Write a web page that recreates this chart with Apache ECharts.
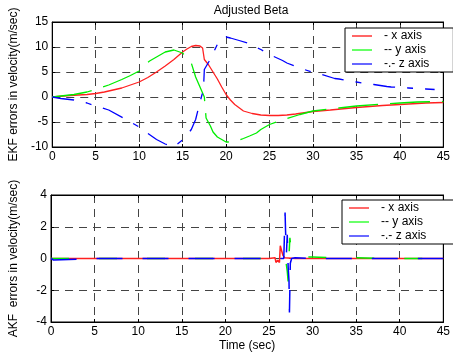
<!DOCTYPE html>
<html><head><meta charset="utf-8">
<script src="https://cdn.jsdelivr.net/npm/echarts@6/dist/echarts.min.js"></script>
<style>html,body{margin:0;padding:0;background:#fff}#c{width:453px;height:358px}</style>
</head><body><div id="c"></div>
<script>
// ---- Top panel (EKF) ----
const ekfXt = [0,2,4,5,6,8,10,11,12,13,14,15,15.5,16,16.5,17,17.3,17.4,17.5,18,18.5,19,19.5,20,20.5,21,22,23,24,25,26,27,28,30,32,35,38,40,43,45];
const ekfX  = [0,0.3,0.5,0.7,1.0,1.8,3.0,3.9,5.0,6.2,7.5,9.0,9.6,10.1,10.3,10.2,9.8,9.5,7.5,6.4,5.0,3.6,2.0,0.5,-0.6,-1.5,-2.8,-3.3,-3.6,-3.7,-3.7,-3.6,-3.4,-2.9,-2.6,-2.1,-1.7,-1.5,-1.2,-1.1];
const ekfYt = [0,1,2.5,4,5,6.5,8,9,10,10.5,11.2,12,13,14,15,16,16.5,17,17.3,17.5,17.7,18.2,18.5,19,20,21,22,22.7,23.5,24,25,27,28.5,30,33,35,38,40,42,45];
const ekfY  = [0,0.2,0.5,1.0,1.5,2.4,3.5,4.3,5.2,6.2,7.2,8.0,9.0,9.4,8.8,6.8,4.0,2.0,0.8,0,-4.2,-5.8,-7.0,-8.0,-9.0,-9.0,-8.3,-7.8,-7.2,-6.5,-5.5,-4.3,-3.5,-2.8,-2.2,-1.8,-1.4,-1.2,-1.0,-0.9];
const ekfZt = [0,1,2.5,4,5,6.5,8.5,10,10.5,12,13,14,15.2,16,16.5,17,17.4,17.5,18,19,19.5,20,20.5,21.5,22.5,24,25,26.5,27,28.5,29,30,31,32.5,33,35,36,37,38.5,39,40,41,43,44];
const ekfZ  = [0,-0.3,-0.6,-1.2,-1.8,-2.6,-4.5,-6.0,-6.7,-8.5,-9.4,-10.0,-8.3,-6.5,-4.5,-1.0,1.5,5.5,7.0,10.5,11.6,12.0,11.8,11.3,10.8,9.5,8.5,7.3,6.8,5.8,5.5,4.9,4.5,3.7,3.6,3.0,2.7,2.5,2.1,2.0,1.9,1.8,1.6,1.5];
// ---- Bottom panel (AKF) ----
const akfXt = [0,5,10,15,20,25,25.7,25.8,26.0,26.2,26.3,26.5,26.6,26.8,27,28,30,35,40,45];
const akfX  = [0,0,0,0,0,0,0.05,-0.25,-0.1,-0.25,0.8,0.7,0.2,0.05,0,0,0,0,0,0];
const akfYt = [0,5,10,15,20,25,26.9,27.0,27.1,27.2,27.3,27.4,27.6,28,30,32,35,38,40,45];
const akfY  = [0,0,0,0,0,0,0,0,-0.8,-1.45,0.2,1.3,0.2,0.1,0.1,0.05,0.05,0,0,0];
const akfZt = [0,0.3,0.5,5,10,15,20,21,21.2,21.4,25,26.7,26.85,26.9,27.0,27.1,27.2,27.3,27.35,27.45,27.6,28,30,35,40,45];
const akfZ  = [0,-0.1,0,0,0,0,0,0,0.05,0,0,0,2.9,1.8,0.3,1.5,-0.5,-1.4,-3.4,-0.3,0,0.05,0,0,0,0];

const names = ['- x axis', '-- y axis', '-.- z axis'];
const font = 'Liberation Sans, Arial, sans-serif';
const fs = 12;
const pairs = (t, v) => t.map((x, i) => [x, v[i]]);

const grids = [
  {left: 45, top: 22, width: 402, height: 125, show: true, borderColor: '#000', borderWidth: 1},
  {left: 45, top: 195, width: 402, height: 127, show: true, borderColor: '#000', borderWidth: 1}
];
const gridLine = {show: true, lineStyle: {color: '#444', type: [8, 6], width: 1}};
const lbl = {color: '#000', fontFamily: font, fontSize: fs};
function xAx(g, main) {
  return {type: 'value', gridIndex: g, min: 0, max: 45, interval: 5, position: main ? 'bottom' : 'top',
    axisLine: {show: true, onZero: false, lineStyle: {color: '#000'}},
    axisTick: {show: true, inside: true, length: 3, lineStyle: {color: '#000'}},
    axisLabel: main ? Object.assign({margin: 4}, lbl) : {show: false},
    splitLine: main ? gridLine : {show: false},
    name: (main && g === 1) ? 'Time (sec)' : '', nameLocation: 'middle', nameGap: 18,
    nameTextStyle: {color: '#000', fontFamily: font, fontSize: fs}};
}
function yAx(g, main, min, max, iv, name) {
  return {type: 'value', gridIndex: g, min: min, max: max, interval: iv, position: main ? 'left' : 'right',
    axisLine: {show: true, onZero: false, lineStyle: {color: '#000'}},
    axisTick: {show: true, inside: true, length: 3, lineStyle: {color: '#000'}},
    axisLabel: main ? Object.assign({margin: 4}, lbl) : {show: false},
    splitLine: main ? gridLine : {show: false},
    name: main ? name : '', nameLocation: 'middle', nameGap: 31,
    nameTextStyle: {color: '#000', fontFamily: font, fontSize: fs}};
}
const mk = (name, data, xi, yi, color, type, width) => ({
  name, type: 'line', xAxisIndex: xi, yAxisIndex: yi, data, showSymbol: false, symbol: 'none',
  lineStyle: {color, type, width}, itemStyle: {color}, silent: true, animation: false, z: 3
});
const legendBase = {orient: 'vertical', itemWidth: 20, itemGap: 0, icon: 'rect',
  backgroundColor: '#fff', borderColor: '#000', borderWidth: 1,
  textStyle: {color: '#000', fontFamily: font, fontSize: fs, padding: [0, 0, 0, 7], lineHeight: 14},
  selectedMode: false, z: 10};

const option = {
  backgroundColor: '#fff',
  animation: false,
  title: {text: 'Adjusted Beta', left: 246, top: 0, textAlign: 'center',
    textStyle: {color: '#000', fontFamily: font, fontSize: fs, fontWeight: 'normal'}},
  grid: grids,
  xAxis: [xAx(0, true), xAx(1, true), xAx(0, false), xAx(1, false)],
  yAxis: [yAx(0, true, -10, 15, 5, 'EKF errors in velocity(m/sec)'), yAx(1, true, -4, 4, 2, 'AKF  errors in velocity(m/sec)'),
          yAx(0, false, -10, 15, 5), yAx(1, false, -4, 4, 2)],
  legend: [
    Object.assign({}, legendBase, {left: 345, top: 28, itemHeight: 1.2, padding: [1, 24, 1, 7], data: [
      {name: names[0], itemStyle: {color: '#ff0000'}},
      {name: names[1], itemStyle: {color: '#00ff00'}},
      {name: names[2], itemStyle: {color: '#0000ff'}}]}),
    Object.assign({}, legendBase, {left: 342, top: 200, itemHeight: 2, padding: [1, 27, 1, 7], data: [
      {name: names[0] + ' ', itemStyle: {color: '#ff6a6a'}},
      {name: names[1] + ' ', itemStyle: {color: '#6aff6a'}},
      {name: names[2] + ' ', itemStyle: {color: '#6a6aff'}}]})
  ],
  series: [
    mk(names[0], pairs(ekfXt, ekfX), 0, 0, '#ff2020', 'solid', 1.3),
    mk(names[1], pairs(ekfYt, ekfY), 0, 0, '#00ee00', [40, 12], 1.3),
    mk(names[2], pairs(ekfZt, ekfZ), 0, 0, '#0000ff', [22, 12, 6, 12], 1.3),
    mk(names[0] + ' ', pairs(akfXt, akfX), 1, 1, '#ff2020', 'solid', 1.5),
    mk(names[1] + ' ', pairs(akfYt, akfY), 1, 1, '#00ee00', [18, 30], 1.5),
    mk(names[2] + ' ', pairs(akfZt, akfZ), 1, 1, '#0000ff', [26, 20], 1.5)
  ]
};
const chart = echarts.init(document.getElementById('c'), null, {renderer: 'canvas'});
chart.setOption(option);
</script></body></html>
